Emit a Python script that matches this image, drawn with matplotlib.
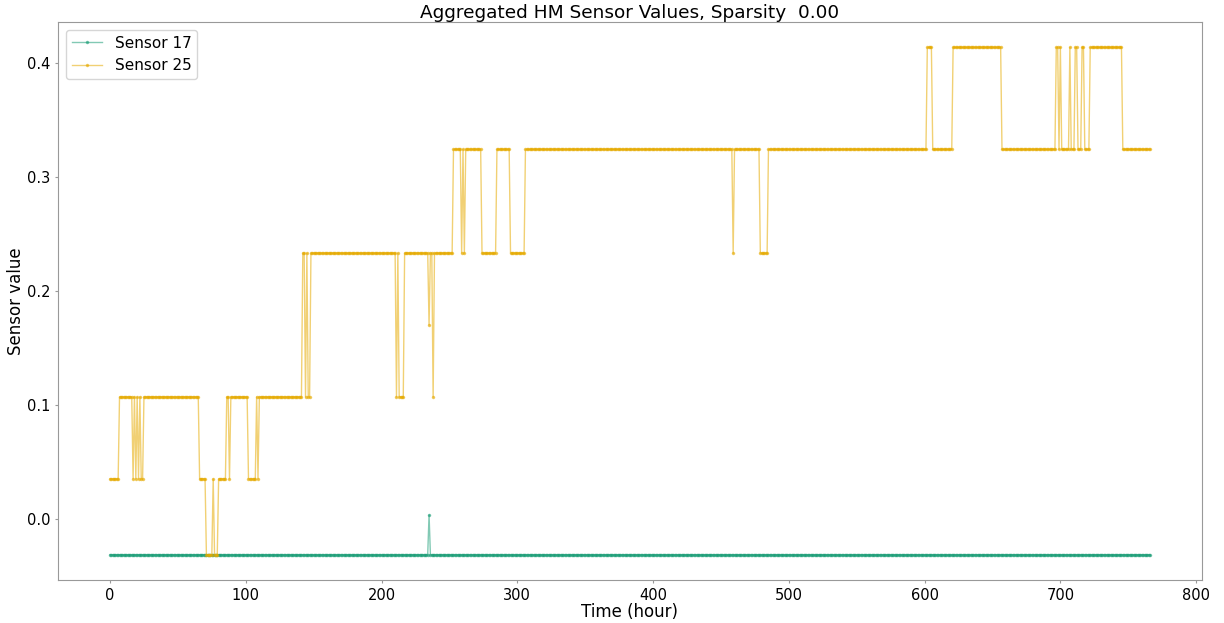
import numpy as np
import matplotlib
matplotlib.use("Agg")
import matplotlib.pyplot as plt

# value levels
A, B, C, D, E, F, G = 0.0349, 0.1068, -0.0316, 0.2330, 0.3240, 0.4134, 0.1700

n_points = 767

# sensor 25: run starts (hour index) and the level held from there
s25_starts = [0, 7, 17, 18, 19, 20, 21, 22, 23, 25, 66, 71, 76, 77, 80, 86, 88, 89,
              102, 108, 109, 110, 142, 144, 145, 146, 148, 211, 212, 213, 217, 235,
              236, 238, 239, 253, 259, 260, 261, 262, 274, 285, 295, 306, 459, 460,
              479, 485, 602, 606, 621, 657, 697, 699, 700, 701, 707, 708, 711, 713,
              716, 718, 722, 746]
s25_levels = [A, B, A, B, A, B, A, B, A, B, A, C, A, C, A, B, A, B,
              A, B, A, B, D, B, D, B, D, B, D, B, D, G,
              D, B, D, E, D, E, D, E, D, E, D, E, D, E,
              D, E, F, E, F, E, F, E, F, E, F, E, F, E,
              F, E, F, E]

# sensor 17: flat except one spike
s17_base = C
s17_spike_idx = 235
s17_spike_val = 0.0032

t = np.arange(n_points)
lengths = np.diff(s25_starts + [n_points])
s25 = np.repeat(s25_levels, lengths)
s17 = np.full(n_points, s17_base)
s17[s17_spike_idx] = s17_spike_val

fig = plt.figure(figsize=(12.24, 6.23), dpi=100)
ax = fig.add_axes([0.0474, 0.069, 0.9346, 0.8957])

ax.plot(t, s17, color="#1b9e77", marker=".", markersize=3, lw=1, alpha=0.55, label="Sensor 17")
ax.plot(t, s25, color="#e6ab02", marker=".", markersize=3, lw=1, alpha=0.55, label="Sensor 25")

ax.set_title("Aggregated HM Sensor Values, Sparsity  0.00", fontsize=13.3, pad=2)
ax.set_xlabel("Time (hour)", fontsize=12, labelpad=0)
ax.set_ylabel("Sensor value", fontsize=12, labelpad=1)
ax.set_xticks(np.arange(0, 900, 100))
ax.set_yticks([0.0, 0.1, 0.2, 0.3, 0.4])
ax.tick_params(labelsize=10.5, length=2, color="#999999")
for sp in ax.spines.values():
    sp.set_color("#999999")

ax.legend(loc="upper left", fontsize=11)

plt.savefig("out.png", dpi=100)
